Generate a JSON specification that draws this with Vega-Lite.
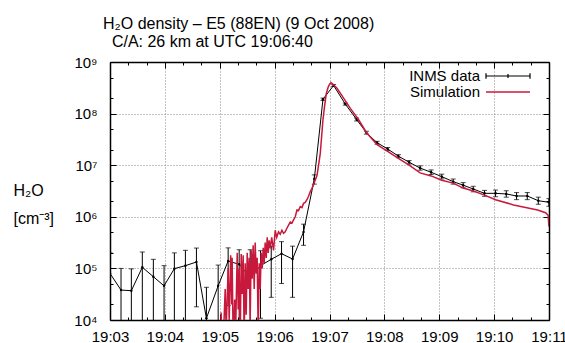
{
  "$schema": "https://vega.github.io/schema/vega-lite/v6.json",
  "width": 439,
  "height": 258,
  "autosize": {"type": "none"},
  "padding": {"left": 110, "top": 62, "right": 16, "bottom": 23},
  "background": "white",
  "title": {
    "text": ["H₂O density – E5 (88EN) (9 Oct 2008)", "\u200b\u00a0\u00a0C/A: 26 km at UTC 19:06:40"],
    "anchor": "start",
    "frame": "group",
    "font": "Liberation Sans",
    "fontSize": 16,
    "fontWeight": "normal",
    "color": "black",
    "dx": -7,
    "dy": 25,
    "lineHeight": 18,
    "baseline": "bottom",
    "offset": 12
  },
  "datasets": {
    "inms": [
      {"t": 3.0, "n": 8.0e4, "lo": 1e3, "hi": 2.0e5},
      {"t": 3.201, "n": 3.8e4, "lo": 1e3, "hi": 1.0e5},
      {"t": 3.389, "n": 3.7e4, "lo": 1e3, "hi": 9.8e4},
      {"t": 3.589, "n": 1.05e5, "lo": 1e3, "hi": 2.08e5},
      {"t": 3.790, "n": 6.9e4, "lo": 1e3, "hi": 1.5e5},
      {"t": 3.985, "n": 4.6e4, "lo": 1e3, "hi": 1.13e5},
      {"t": 4.173, "n": 9.9e4, "lo": 1e3, "hi": 2.0e5},
      {"t": 4.374, "n": 1.13e5, "lo": 1e3, "hi": 2.24e5},
      {"t": 4.575, "n": 1.33e5, "lo": 1.8e4, "hi": 2.48e5},
      {"t": 4.757, "n": 1.08e4, "lo": 1e3, "hi": 4.3e4},
      {"t": 4.971, "n": 4.6e4, "lo": 1e3, "hi": 1.16e5},
      {"t": 5.153, "n": 1.39e5, "lo": 1.9e4, "hi": 2.5e5},
      {"t": 5.354, "n": 1.2e5, "lo": 1e3, "hi": 2.3e5},
      {"t": 5.555, "n": 6.7e4, "lo": 1e3, "hi": 2.3e5},
      {"t": 5.743, "n": 1.13e5, "lo": 1.08e4, "hi": 2.2e5},
      {"t": 5.938, "n": 1.5e5, "lo": 2.75e4, "hi": 2.7e5},
      {"t": 6.126, "n": 1.93e5, "lo": 5.1e4, "hi": 3.3e5},
      {"t": 6.327, "n": 1.52e5, "lo": 2.75e4, "hi": 2.7e5},
      {"t": 6.527, "n": 5.1e5, "lo": 2.8e5, "hi": 7.2e5},
      {"t": 6.723, "n": 5.4e6, "lo": 4.3e6, "hi": 6.5e6},
      {"t": 6.881, "n": 1.9e8, "lo": 1.8e8, "hi": 2.0e8},
      {"t": 7.075, "n": 3.5e8, "lo": 3.35e8, "hi": 3.65e8},
      {"t": 7.288, "n": 1.53e8, "lo": 1.46e8, "hi": 1.6e8},
      {"t": 7.494, "n": 7.7e7, "lo": 7.2e7, "hi": 8.2e7},
      {"t": 7.672, "n": 4.27e7, "lo": 4.0e7, "hi": 4.55e7},
      {"t": 7.867, "n": 2.73e7, "lo": 2.55e7, "hi": 2.9e7},
      {"t": 8.060, "n": 2.06e7, "lo": 1.92e7, "hi": 2.2e7},
      {"t": 8.255, "n": 1.5e7, "lo": 1.4e7, "hi": 1.6e7},
      {"t": 8.451, "n": 1.14e7, "lo": 1.05e7, "hi": 1.23e7},
      {"t": 8.651, "n": 8.8e6, "lo": 8.0e6, "hi": 9.7e6},
      {"t": 8.852, "n": 7.3e6, "lo": 6.6e6, "hi": 8.1e6},
      {"t": 9.046, "n": 6.0e6, "lo": 5.4e6, "hi": 6.7e6},
      {"t": 9.254, "n": 4.8e6, "lo": 4.3e6, "hi": 5.4e6},
      {"t": 9.436, "n": 4.1e6, "lo": 3.65e6, "hi": 4.6e6},
      {"t": 9.619, "n": 3.46e6, "lo": 3.05e6, "hi": 3.9e6},
      {"t": 9.825, "n": 2.85e6, "lo": 2.5e6, "hi": 3.25e6},
      {"t": 10.026, "n": 2.85e6, "lo": 2.45e6, "hi": 3.3e6},
      {"t": 10.221, "n": 2.77e6, "lo": 2.4e6, "hi": 3.2e6},
      {"t": 10.409, "n": 2.53e6, "lo": 2.15e6, "hi": 2.95e6},
      {"t": 10.604, "n": 2.53e6, "lo": 2.15e6, "hi": 2.95e6},
      {"t": 10.805, "n": 2.05e6, "lo": 1.75e6, "hi": 2.4e6},
      {"t": 10.998, "n": 1.91e6, "lo": 1.6e6, "hi": 2.25e6}
    ],
    "sim": [
      {"t": 5.016, "n": 3.2e3}, {"t": 5.026, "n": 1.4e4}, {"t": 5.035, "n": 3.2e3},
      {"t": 5.062, "n": 3.2e3}, {"t": 5.099, "n": 4.0e4}, {"t": 5.117, "n": 6.3e3},
      {"t": 5.153, "n": 1.0e5}, {"t": 5.172, "n": 1.0e4}, {"t": 5.199, "n": 1.8e5},
      {"t": 5.217, "n": 2.0e4}, {"t": 5.226, "n": 1.6e5}, {"t": 5.245, "n": 3.2e3},
      {"t": 5.272, "n": 2.5e4}, {"t": 5.290, "n": 6.3e3}, {"t": 5.318, "n": 2.0e5},
      {"t": 5.336, "n": 1.6e4}, {"t": 5.354, "n": 1.0e5}, {"t": 5.372, "n": 3.2e3},
      {"t": 5.391, "n": 1.9e5}, {"t": 5.409, "n": 3.2e4}, {"t": 5.427, "n": 1.8e5},
      {"t": 5.445, "n": 4.0e3}, {"t": 5.464, "n": 1.26e5}, {"t": 5.482, "n": 1.26e4},
      {"t": 5.500, "n": 2.0e5}, {"t": 5.518, "n": 4.0e4}, {"t": 5.536, "n": 1.6e5},
      {"t": 5.555, "n": 1.0e4}, {"t": 5.573, "n": 2.24e5}, {"t": 5.591, "n": 6.3e4},
      {"t": 5.609, "n": 2.8e5}, {"t": 5.628, "n": 4.0e4}, {"t": 5.646, "n": 3.16e5},
      {"t": 5.664, "n": 7.9e4}, {"t": 5.682, "n": 1.6e5}, {"t": 5.701, "n": 5.0e3},
      {"t": 5.719, "n": 1.26e5}, {"t": 5.737, "n": 4.0e4}, {"t": 5.755, "n": 2.0e5},
      {"t": 5.774, "n": 1.0e5}, {"t": 5.792, "n": 2.5e5}, {"t": 5.810, "n": 1.26e5},
      {"t": 5.828, "n": 3.16e5}, {"t": 5.847, "n": 1.6e5}, {"t": 5.865, "n": 4.0e5},
      {"t": 5.883, "n": 2.0e5}, {"t": 5.901, "n": 3.5e5}, {"t": 5.920, "n": 2.45e5},
      {"t": 5.947, "n": 4.0e5}, {"t": 5.980, "n": 2.24e5}, {"t": 6.011, "n": 5.5e5},
      {"t": 6.038, "n": 4.0e5}, {"t": 6.071, "n": 5.1e5}, {"t": 6.102, "n": 4.6e5},
      {"t": 6.133, "n": 5.5e5}, {"t": 6.162, "n": 4.8e5}, {"t": 6.193, "n": 5.1e5},
      {"t": 6.224, "n": 6.0e5}, {"t": 6.254, "n": 6.9e5}, {"t": 6.285, "n": 7.9e5},
      {"t": 6.316, "n": 7.6e5}, {"t": 6.345, "n": 8.7e5}, {"t": 6.376, "n": 1.0e6},
      {"t": 6.407, "n": 1.35e6}, {"t": 6.436, "n": 1.32e6}, {"t": 6.467, "n": 1.58e6},
      {"t": 6.498, "n": 1.51e6}, {"t": 6.527, "n": 1.82e6}, {"t": 6.558, "n": 1.9e6},
      {"t": 6.589, "n": 2.14e6}, {"t": 6.618, "n": 2.5e6}, {"t": 6.650, "n": 3.1e6},
      {"t": 6.680, "n": 3.55e6}, {"t": 6.710, "n": 4.2e6}, {"t": 6.741, "n": 5.2e6},
      {"t": 6.772, "n": 6.3e6}, {"t": 6.801, "n": 1.0e7}, {"t": 6.832, "n": 1.7e7},
      {"t": 6.881, "n": 7.6e7}, {"t": 6.911, "n": 1.41e8}, {"t": 6.942, "n": 2.45e8},
      {"t": 6.978, "n": 3.3e8}, {"t": 7.002, "n": 3.7e8}, {"t": 7.027, "n": 4.0e8},
      {"t": 7.064, "n": 3.7e8}, {"t": 7.137, "n": 3.1e8}, {"t": 7.257, "n": 2.0e8},
      {"t": 7.380, "n": 1.26e8}, {"t": 7.531, "n": 7.6e7}, {"t": 7.672, "n": 4.3e7},
      {"t": 7.867, "n": 2.5e7}, {"t": 8.060, "n": 1.86e7}, {"t": 8.255, "n": 1.35e7},
      {"t": 8.451, "n": 1.0e7}, {"t": 8.651, "n": 7.1e6}, {"t": 8.852, "n": 6.2e6},
      {"t": 9.046, "n": 5.1e6}, {"t": 9.254, "n": 4.5e6}, {"t": 9.436, "n": 3.6e6},
      {"t": 9.624, "n": 3.16e6}, {"t": 9.825, "n": 2.63e6}, {"t": 10.026, "n": 2.14e6},
      {"t": 10.354, "n": 1.7e6}, {"t": 10.792, "n": 1.35e6}, {"t": 10.938, "n": 1.2e6},
      {"t": 10.984, "n": 1.07e6}, {"t": 10.998, "n": 6.5e5}
    ]
  },
  "resolve": {"axis": {"x": "independent", "y": "independent"}, "scale": {"color": "independent"}},
  "layer": [
    {
      "data": {"name": "inms"},
      "mark": {"type": "line", "strokeWidth": 1, "clip": true},
      "encoding": {
        "x": {
          "field": "t", "type": "quantitative",
          "scale": {"domain": [3, 11], "nice": false, "zero": false},
          "axis": {
            "orient": "bottom", "title": null,
            "values": [3, 3.3333, 3.6667, 4, 4.3333, 4.6667, 5, 5.3333, 5.6667, 6, 6.3333, 6.6667, 7, 7.3333, 7.6667, 8, 8.3333, 8.6667, 9, 9.3333, 9.6667, 10, 10.3333, 10.6667, 11],
            "labelExpr": "abs(datum.value - round(datum.value)) < 0.01 ? '19:' + format(round(datum.value), '02d') : ''",
            "labelOverlap": false, "labelFlush": false, "labelPadding": 15,
            "tickSize": {"condition": {"test": "abs(datum.value - round(datum.value)) < 0.01", "value": -6}, "value": -3},
            "grid": true,
            "gridOpacity": {"condition": {"test": "abs(datum.value - round(datum.value)) < 0.01", "value": 1}, "value": 0}
          }
        },
        "y": {
          "field": "n", "type": "quantitative",
          "scale": {"type": "log", "domain": [1e4, 1e9], "nice": false},
          "axis": {
            "orient": "left",
            "values": [1e4, 2e4, 5e4, 1e5, 2e5, 5e5, 1e6, 2e6, 5e6, 1e7, 2e7, 5e7, 1e8, 2e8, 5e8, 1e9],
            "labelExpr": "abs(log(datum.value)/LN10 - round(log(datum.value)/LN10)) < 0.001 ? '10' + ['⁰','¹','²','³','⁴','⁵','⁶','⁷','⁸','⁹'][round(log(datum.value)/LN10)] : ''",
            "labelOverlap": false, "labelPadding": 19,
            "tickSize": {"condition": {"test": "abs(log(datum.value)/LN10 - round(log(datum.value)/LN10)) < 0.001", "value": -6}, "value": -3},
            "grid": true,
            "gridOpacity": {"condition": {"test": "abs(log(datum.value)/LN10 - round(log(datum.value)/LN10)) < 0.001", "value": 1}, "value": 0},
            "title": ["H₂O", "[cm⁻³]"],
            "titleAngle": 0, "titleAlign": "left", "titleBaseline": "alphabetic",
            "titleX": -97, "titleY": 133, "titleLineHeight": 28,
            "titleFontSize": 16, "titleFontWeight": "normal", "titleFont": "Liberation Sans", "titleColor": "black"
          }
        },
        "color": {
          "datum": "INMS data",
          "scale": {"domain": ["INMS data"], "range": ["black"]},
          "legend": {
            "orient": "none", "legendX": 360, "legendY": -9, "title": null,
            "symbolType": "M-1,-0.12L-1,0.12M-1,0L1,0M1,-0.12L1,0.12M0,-0.09L0,0.09",
            "symbolSize": 1936, "symbolStrokeWidth": 1.2,
            "labelFont": "Liberation Sans", "labelFontSize": 15, "labelColor": "black",
            "encode": {
              "labels": {"update": {"x": {"value": 10}, "align": {"value": "right"}}},
              "symbols": {"update": {"x": {"value": 38}}}
            }
          }
        }
      }
    },
    {
      "data": {"name": "inms"},
      "mark": {"type": "rule", "color": "black", "strokeWidth": 1, "clip": true},
      "encoding": {
        "x": {"field": "t", "type": "quantitative", "axis": null},
        "y": {"field": "lo", "type": "quantitative", "axis": null},
        "y2": {"field": "hi"}
      }
    },
    {
      "data": {"name": "inms"},
      "mark": {"type": "tick", "orient": "horizontal", "color": "black", "size": 5, "thickness": 1, "clip": true},
      "encoding": {
        "x": {"field": "t", "type": "quantitative", "axis": null},
        "y": {"field": "lo", "type": "quantitative", "axis": null}
      }
    },
    {
      "data": {"name": "inms"},
      "mark": {"type": "tick", "orient": "horizontal", "color": "black", "size": 5, "thickness": 1, "clip": true},
      "encoding": {
        "x": {"field": "t", "type": "quantitative", "axis": null},
        "y": {"field": "hi", "type": "quantitative", "axis": null}
      }
    },
    {
      "data": {"name": "inms"},
      "mark": {"type": "point", "shape": "circle", "filled": true, "color": "black", "size": 6, "opacity": 1, "clip": true},
      "encoding": {
        "x": {"field": "t", "type": "quantitative", "axis": null},
        "y": {"field": "n", "type": "quantitative", "axis": null}
      }
    },
    {
      "data": {"name": "sim"},
      "mark": {"type": "line", "strokeWidth": 1.5, "clip": true},
      "encoding": {
        "x": {
          "field": "t", "type": "quantitative",
          "axis": {
            "orient": "top", "title": null, "labels": false, "grid": false,
            "values": [3, 3.3333, 3.6667, 4, 4.3333, 4.6667, 5, 5.3333, 5.6667, 6, 6.3333, 6.6667, 7, 7.3333, 7.6667, 8, 8.3333, 8.6667, 9, 9.3333, 9.6667, 10, 10.3333, 10.6667, 11],
            "tickSize": {"condition": {"test": "abs(datum.value - round(datum.value)) < 0.01", "value": -6}, "value": -3}
          }
        },
        "y": {
          "field": "n", "type": "quantitative",
          "axis": {
            "orient": "right", "title": null, "labels": false, "grid": false,
            "values": [1e4, 2e4, 5e4, 1e5, 2e5, 5e5, 1e6, 2e6, 5e6, 1e7, 2e7, 5e7, 1e8, 2e8, 5e8, 1e9],
            "tickSize": {"condition": {"test": "abs(log(datum.value)/LN10 - round(log(datum.value)/LN10)) < 0.001", "value": -6}, "value": -3}
          }
        },
        "color": {
          "datum": "Simulation",
          "scale": {"domain": ["Simulation"], "range": ["#c8193c"]},
          "legend": {
            "orient": "none", "legendX": 360, "legendY": 7, "title": null,
            "symbolType": "stroke", "symbolSize": 1936, "symbolStrokeWidth": 1.5,
            "labelFont": "Liberation Sans", "labelFontSize": 15, "labelColor": "black",
            "encode": {
              "labels": {"update": {"x": {"value": 10}, "align": {"value": "right"}}},
              "symbols": {"update": {"x": {"value": 38}}}
            }
          }
        }
      }
    }
  ],
  "config": {
    "font": "Liberation Sans",
    "view": {"stroke": null},
    "axis": {
      "labelFont": "Liberation Sans",
      "labelFontSize": 15,
      "labelColor": "black",
      "domainColor": "black",
      "domainWidth": 1.5,
      "tickColor": "black",
      "tickWidth": 1,
      "gridColor": "#888888",
      "gridDash": [1, 2],
      "gridWidth": 1
    }
  }
}
